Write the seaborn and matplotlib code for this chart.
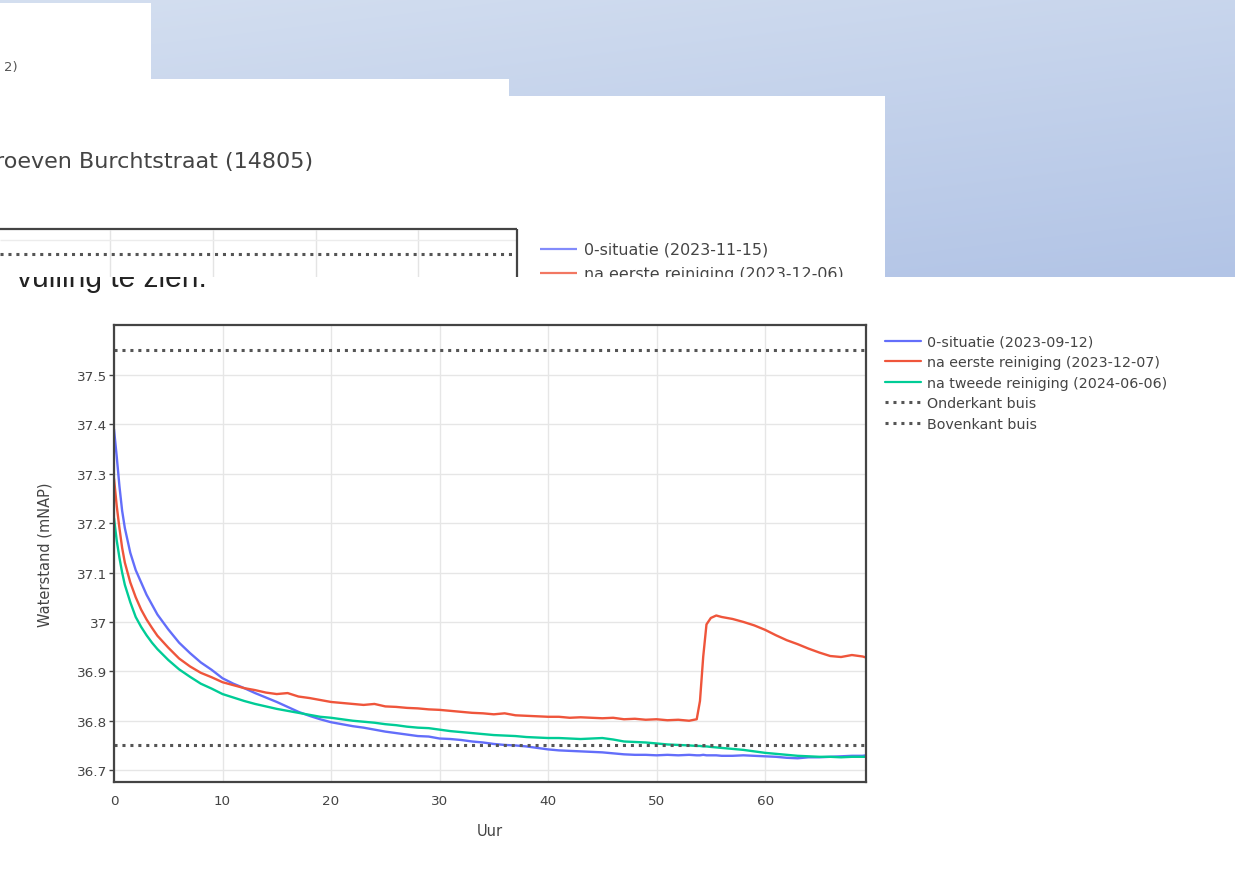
import numpy as np
import pandas as pd
import matplotlib
matplotlib.use("Agg")
import matplotlib.pyplot as plt
import seaborn as sns
from matplotlib.lines import Line2D

# --- data -------------------------------------------------------------------
uur = [0, 0.25, 0.5, 0.75, 1, 1.5, 2, 2.5, 3, 3.5,
       4, 5, 6, 7, 8, 9, 10, 11, 12, 13, 14, 15, 16, 17, 18, 19, 20, 21, 22, 23,
       24, 25, 26, 27, 28, 29, 30, 31, 32, 33, 34, 35, 36, 37, 38, 39, 40, 41,
       42, 43, 44, 45, 46, 47, 48, 49, 50, 51, 52, 53,
       53.7, 54.0, 54.3, 54.6, 55, 55.5,
       56, 57, 58, 59, 60, 61, 62, 63, 64, 65, 66, 67, 68, 69, 69.3]

situatie_0 = [37.39, 37.335, 37.275, 37.225, 37.19, 37.14, 37.105, 37.08, 37.055, 37.035,
              37.015, 36.985, 36.958, 36.937, 36.918, 36.903, 36.886, 36.875, 36.866, 36.856,
              36.847, 36.838, 36.828, 36.818, 36.810, 36.803, 36.797, 36.793, 36.789, 36.786,
              36.782, 36.778, 36.775, 36.772, 36.769, 36.768, 36.764, 36.763, 36.761, 36.758,
              36.756, 36.753, 36.751, 36.750, 36.748, 36.745, 36.742, 36.740, 36.739, 36.738,
              36.737, 36.736, 36.734, 36.732, 36.731, 36.731, 36.730, 36.731, 36.730, 36.731,
              36.730, 36.730, 36.731, 36.730, 36.730, 36.730,
              36.729, 36.729, 36.730, 36.729, 36.728, 36.727, 36.725, 36.724, 36.726, 36.726,
              36.727, 36.728, 36.729, 36.729, 36.730]

eerste_reiniging = [37.29, 37.235, 37.19, 37.15, 37.12, 37.08, 37.05, 37.025, 37.005, 36.988,
                    36.972, 36.948, 36.926, 36.910, 36.897, 36.888, 36.878, 36.872, 36.866, 36.862,
                    36.857, 36.854, 36.856, 36.849, 36.846, 36.842, 36.838, 36.836, 36.834, 36.832,
                    36.834, 36.829, 36.828, 36.826, 36.825, 36.823, 36.822, 36.820, 36.818, 36.816,
                    36.815, 36.813, 36.815, 36.811, 36.810, 36.809, 36.808, 36.808, 36.806, 36.807,
                    36.806, 36.805, 36.806, 36.803, 36.804, 36.802, 36.803, 36.801, 36.802, 36.800,
                    36.803, 36.840, 36.930, 36.995, 37.008, 37.013,
                    37.010, 37.006, 37.000, 36.993, 36.984, 36.973, 36.963, 36.955, 36.946, 36.938,
                    36.931, 36.929, 36.933, 36.930, 36.928]

tweede_reiniging = [37.21, 37.165, 37.13, 37.10, 37.075, 37.04, 37.01, 36.99, 36.973, 36.958,
                    36.945, 36.923, 36.904, 36.889, 36.875, 36.865, 36.854, 36.847, 36.840, 36.834,
                    36.829, 36.824, 36.820, 36.816, 36.812, 36.808, 36.806, 36.803, 36.800, 36.798,
                    36.796, 36.793, 36.791, 36.788, 36.786, 36.785, 36.782, 36.779, 36.777, 36.775,
                    36.773, 36.771, 36.770, 36.769, 36.767, 36.766, 36.765, 36.765, 36.764, 36.763,
                    36.764, 36.765, 36.762, 36.758, 36.757, 36.756, 36.754, 36.752, 36.751, 36.750,
                    36.749, 36.749, 36.748, 36.748, 36.747, 36.746,
                    36.745, 36.743, 36.741, 36.738, 36.735, 36.733, 36.731, 36.729, 36.728, 36.727,
                    36.727, 36.726, 36.727, 36.727, 36.727]

reeksen = ["0-situatie (2023-09-12)",
           "na eerste reiniging (2023-12-07)",
           "na tweede reiniging (2024-06-06)"]
kleuren = ["#636EFA", "#EF553B", "#00CC96"]

onderkant_buis = 36.75
bovenkant_buis = 37.55

x_ticks = [0, 10, 20, 30, 40, 50, 60]
y_ticks = [36.7, 36.8, 36.9, 37.0, 37.1, 37.2, 37.3, 37.4, 37.5]

df = pd.DataFrame({
    "Uur": uur * 3,
    "Waterstand": situatie_0 + eerste_reiniging + tweede_reiniging,
    "reeks": [reeksen[0]] * len(uur) + [reeksen[1]] * len(uur) + [reeksen[2]] * len(uur),
})

# --- figure ------------------------------------------------------------------
sns.set_style("white")
plt.rcParams["font.family"] = ["DejaVu Sans"]

W, H = 1235, 887
fig = plt.figure(figsize=(W / 100, H / 100), dpi=100, facecolor="white")


def panel(x0, y0, x1, y1, z):
    # axes in screen pixel coordinates, used for the screenshot pieces
    a = fig.add_axes([x0 / W, 1 - y1 / H, (x1 - x0) / W, (y1 - y0) / H])
    a.set_xlim(x0, x1)
    a.set_ylim(y1, y0)
    a.set_facecolor("white")
    a.set_xticks([])
    a.set_yticks([])
    for s in a.spines.values():
        s.set_visible(False)
    a.set_zorder(z)
    return a


# blue backdrop at the top
bg = panel(0, 0, W, H, 0)
yy, xx = np.mgrid[0:278, 0:W]
t = 0.35 * xx / W + 0.65 * yy / 278
c0 = np.array([212, 223, 240])
c1 = np.array([178, 196, 230])
img = (c0 + (c1 - c0) * t[..., None]) / 255
bg.imshow(img, extent=(0, W, 278, 0), aspect="auto")
bg.set_xlim(0, W)
bg.set_ylim(H, 0)

# lower screenshot; its first text line sticks out and is hidden by the piece above
p4 = panel(0, 278, W, H, 1)
p4.text(17, 287, "vulling te zien.", ha="left", va="baseline", fontsize=21.5,
        family=["Liberation Sans", "DejaVu Sans"], color="#222222")

# pieces of earlier screenshots
p1 = panel(0, 4, 151, 80, 2)
p1.text(18, 68, "2)", ha="right", va="center", fontsize=9.5, color="#555555")
p2 = panel(0, 80, 509, 97, 2)

p3 = panel(0, 97, 885, 278, 2)
p3.text(313, 162, "roeven Burchtstraat (14805)", ha="right", va="center",
        fontsize=16, color="#444444", clip_on=True)
p3.vlines([110, 213, 316, 418], 231, 280, color="#e4e4e4", lw=1, zorder=1)
p3.hlines(241, 0, 516, color="#ececec", lw=1, zorder=1)
p3.hlines(255, 0, 516, color="#555555", lw=2.2, linestyles=[(0, (1, 1.6))], zorder=2)
p3.hlines(230, 0, 517, color="#444444", lw=1.6, zorder=3)
p3.vlines(517, 230, 280, color="#444444", lw=1.6, zorder=3)
p3.hlines(250, 540, 577, color="#636EFA", lw=1.6, alpha=0.8)
p3.text(584, 250, "0-situatie (2023-11-15)", va="center", fontsize=11.4,
        color="#444444")
p3.hlines(274, 540, 577, color="#EF553B", lw=1.6, alpha=0.8)
p3.text(584, 274, "na eerste reiniging (2023-12-06)", va="center", fontsize=11.4,
        color="#444444")

# white strip that cuts off the upper legend
p5 = panel(520, 278, 885, 310, 2.5)

# main chart
ax = fig.add_axes([114 / W, 1 - 783 / H, 752 / W, 457 / H])
ax.set_zorder(3)
sns.lineplot(data=df, x="Uur", y="Waterstand", hue="reeks", palette=kleuren,
             hue_order=reeksen, linewidth=1.7, estimator=None, sort=False,
             legend=False, ax=ax)
ax.axhline(onderkant_buis, color="#555555", lw=2.2, ls=(0, (1, 1.6)))
ax.axhline(bovenkant_buis, color="#555555", lw=2.2, ls=(0, (1, 1.6)))

ax.set_xlim(0, 69.3)
ax.set_ylim(36.676, 37.601)
ax.set_xticks(x_ticks)
ax.set_yticks(y_ticks)
ax.set_yticklabels([f"{v:g}" for v in y_ticks])
ax.grid(True, color="#e6e6e6", lw=1)
ax.set_axisbelow(True)
ax.tick_params(axis="y", left=True, length=3.6, width=1, color="#444444", pad=1.5,
               labelsize=9.7, labelcolor="#444444", direction="out")
ax.tick_params(axis="x", bottom=True, length=0, pad=8.5, labelsize=9.7,
               labelcolor="#444444")
for s in ax.spines.values():
    s.set_visible(True)
    s.set_color("#444444")
    s.set_linewidth(1.6)

ax.set_xlabel("Uur", fontsize=10.5, color="#444444")
ax.set_ylabel("Waterstand (mNAP)", fontsize=10.5, color="#444444")
ax.xaxis.set_label_coords(0.5, -0.107)
ax.xaxis.label.set_verticalalignment("center")
ax.yaxis.set_label_coords(-0.092, 0.5)
ax.yaxis.label.set_verticalalignment("center")

handles = [Line2D([], [], color=c, lw=1.6) for c in kleuren]
handles += [Line2D([], [], color="#555555", lw=2.2, ls=(0, (1, 1.6))) for _ in range(2)]
labels = reeksen + ["Onderkant buis", "Bovenkant buis"]
fig.legend(handles, labels, loc="upper left", bbox_to_anchor=(885 / W, 1 - 336 / H),
           frameon=False, fontsize=10.3, handlelength=2.5, handletextpad=0.45,
           labelspacing=0.45, borderpad=0, borderaxespad=0, labelcolor="#444444")

fig.savefig("out.png", dpi=100)
